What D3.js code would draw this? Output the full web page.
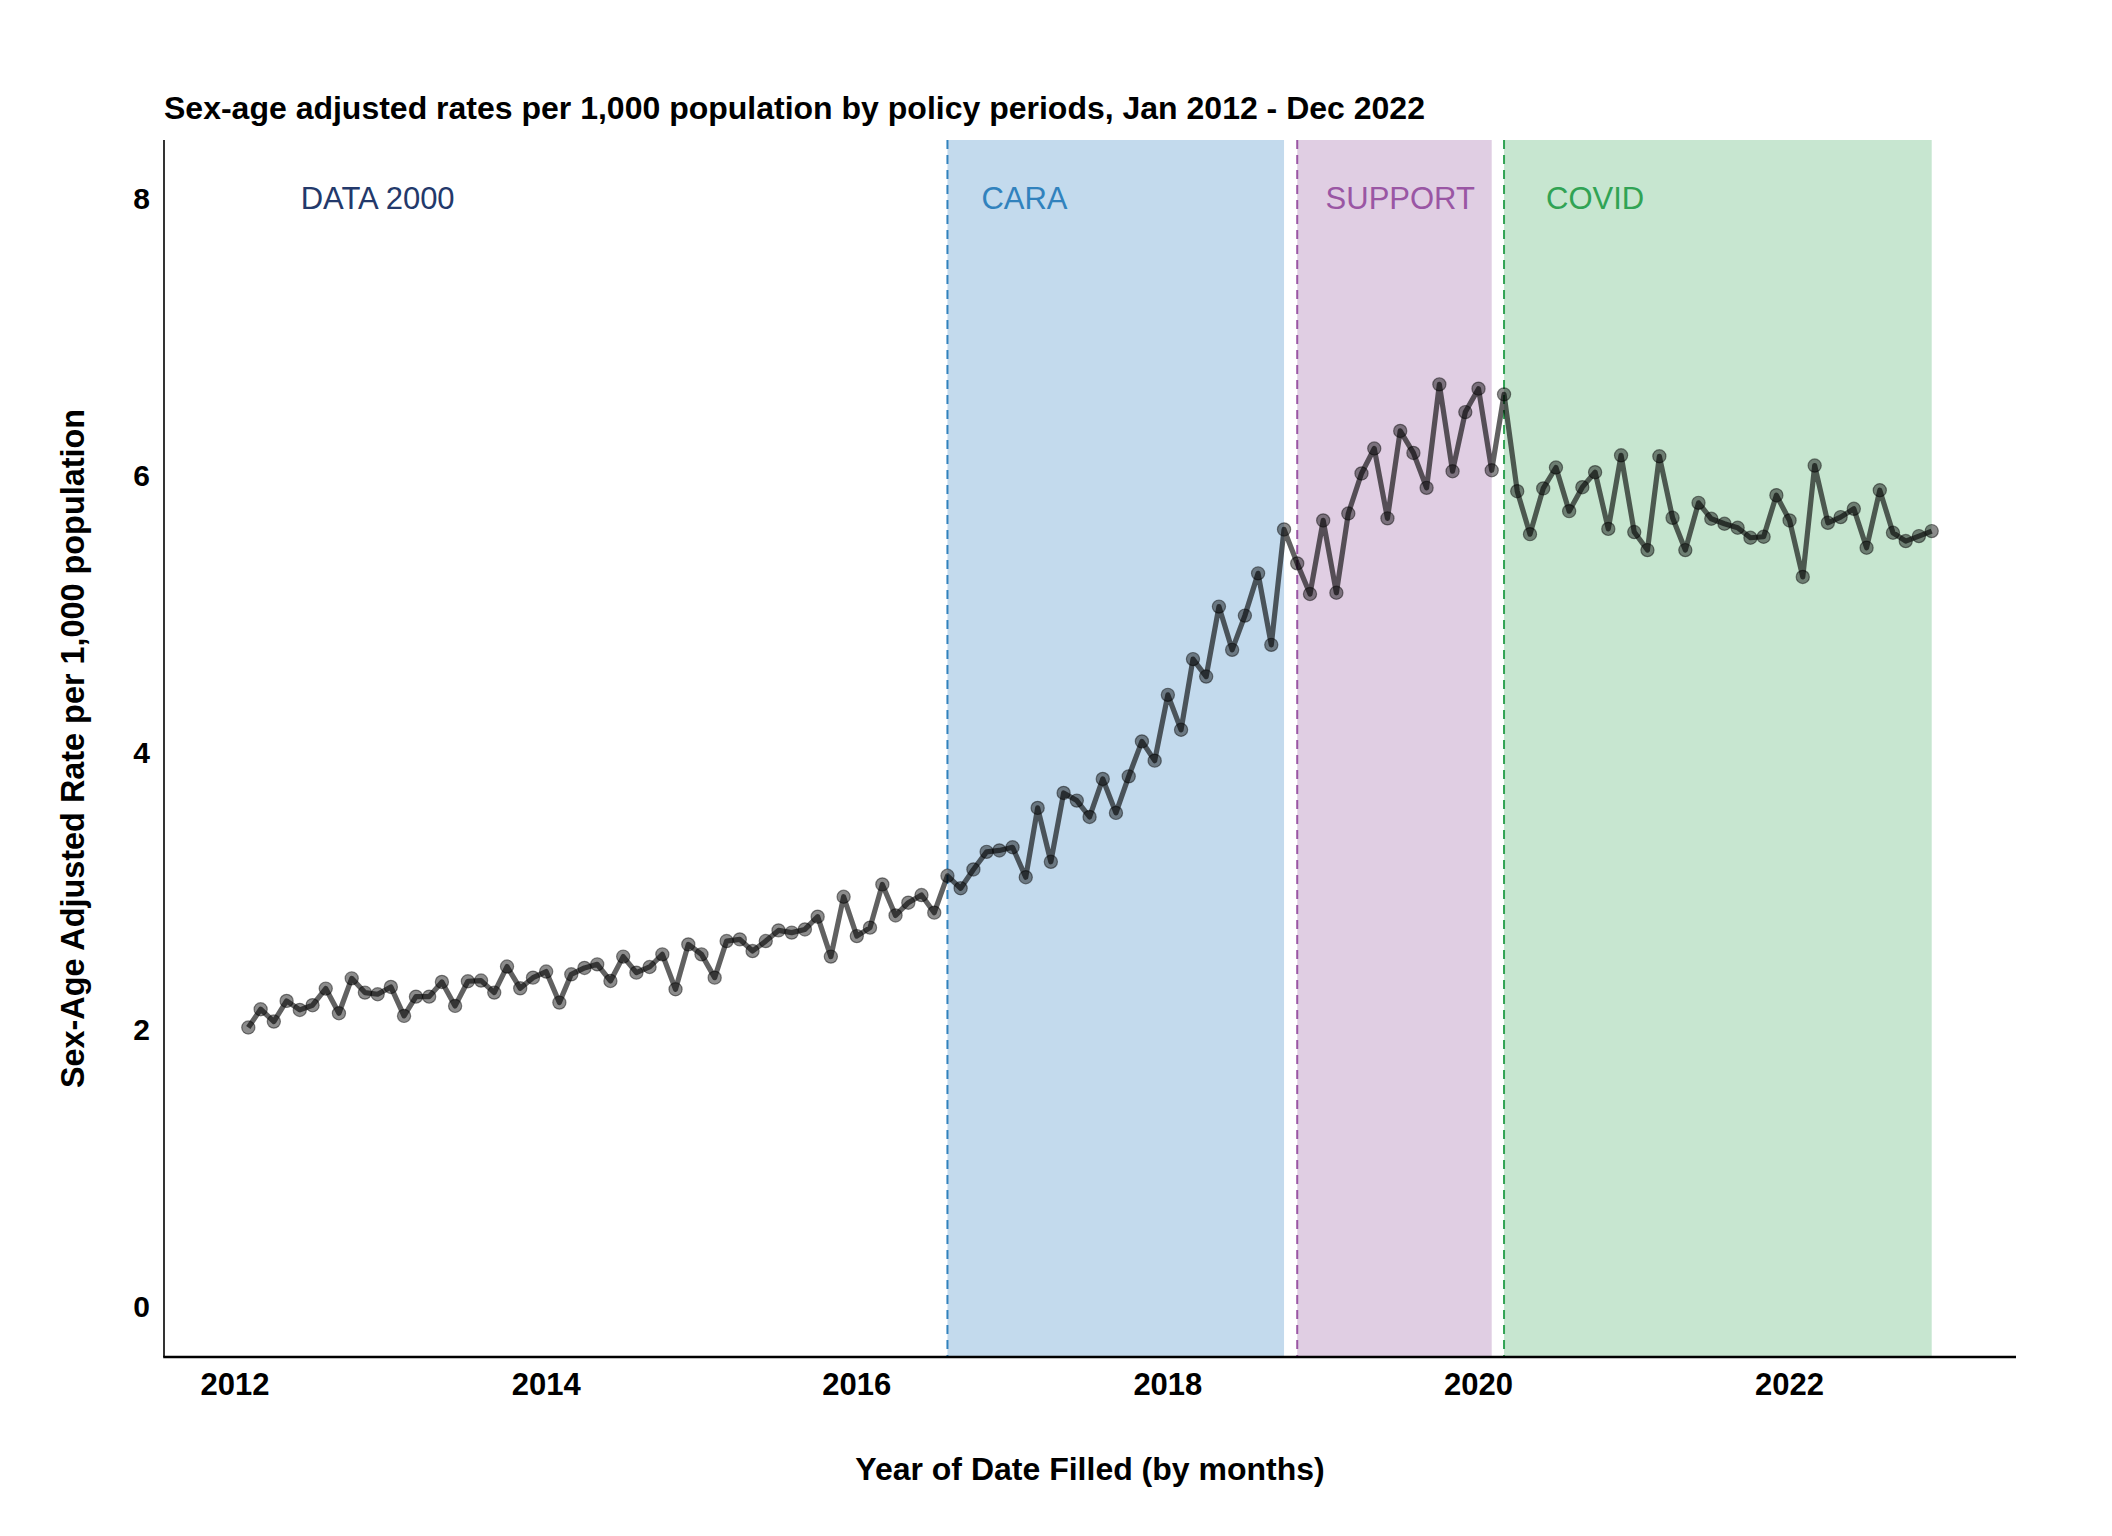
<!DOCTYPE html>
<html>
<head>
<meta charset="utf-8">
<script src="https://cdn.jsdelivr.net/npm/d3@7"></script>
<style>
  html, body { margin: 0; padding: 0; background: #ffffff; }
  svg text { font-family: "Liberation Sans", Arial, sans-serif; }
</style>
</head>
<body>
<svg id="chart" width="2112" height="1536"></svg>
<script>
// ---------------- DATA ----------------
const firstMonth = new Date(2012, 1, 1);   // Feb 2012
const endMonthExclusive = new Date(2023, 0, 1); // through Dec 2022
const months = d3.timeMonth.range(firstMonth, endMonthExclusive);

const rates = [
  2.015, 2.147, 2.058, 2.207, 2.142, 2.176, 2.296, 2.118, 2.370, 2.267, 2.255,
  2.308, 2.099, 2.238, 2.238, 2.344, 2.171, 2.349, 2.354, 2.267, 2.455, 2.298,
  2.375, 2.419, 2.195, 2.399, 2.445, 2.471, 2.351, 2.527, 2.411, 2.452, 2.543,
  2.291, 2.615, 2.543, 2.375, 2.639, 2.651, 2.567, 2.639, 2.716, 2.700, 2.723,
  2.815, 2.527, 2.959, 2.675, 2.736, 3.048, 2.824, 2.916, 2.971, 2.844, 3.110,
  3.020, 3.156, 3.283, 3.293, 3.316, 3.100, 3.600, 3.211, 3.708, 3.653, 3.535,
  3.809, 3.564, 3.828, 4.080, 3.941, 4.416, 4.164, 4.674, 4.548, 5.053, 4.741,
  4.988, 5.293, 4.777, 5.610, 5.365, 5.144, 5.675, 5.153, 5.725, 6.014, 6.194,
  5.690, 6.321, 6.162, 5.910, 6.657, 6.030, 6.457, 6.626, 6.037, 6.585, 5.886,
  5.576, 5.906, 6.057, 5.742, 5.915, 6.023, 5.614, 6.145, 5.591, 5.461, 6.138,
  5.694, 5.461, 5.802, 5.687, 5.651, 5.622, 5.550, 5.557, 5.857, 5.675, 5.267,
  6.071, 5.658, 5.699, 5.759, 5.478, 5.893, 5.586, 5.526, 5.562, 5.598
];

const periodNames  = ["DATA 2000", "CARA", "SUPPORT", "COVID"];
const periodStarts = [null, new Date(2016, 7, 1), new Date(2018, 10, 1), new Date(2020, 2, 1)];
const periodEnds   = [null, new Date(2018, 9, 1), new Date(2020, 1, 1), new Date(2022, 11, 1)];
const periodLabelDates = [new Date(2012, 11, 1), new Date(2017, 0, 29), new Date(2019, 6, 1), new Date(2020, 9, 1)];
const periodLabelValue = 8;

const periodFill  = [null, "#c3daed", "#e0cee3", "#c7e6d0"];
const periodLine  = [null, "#3182bd", "#9a56a4", "#31a354"];
const periodText  = ["#23396b", "#3182bd", "#9a56a4", "#31a354"];

const yTicks = [0, 2, 4, 6, 8];
const xTickYears = [2012, 2014, 2016, 2018, 2020, 2022];

const titleText = "Sex-age adjusted rates per 1,000 population by policy periods, Jan 2012 - Dec 2022";
const xTitle = "Year of Date Filled (by months)";
const yTitle = "Sex-Age Adjusted Rate per 1,000 population";

// ---------------- LAYOUT ----------------
const panel = { left: 164, right: 2016, top: 140, bottom: 1357 };

const x = d3.scaleTime()
  .domain([months[0], months[months.length - 1]])
  .range([248.3, 1931.7]);

const y = d3.scaleLinear()
  .domain([0, 8])
  .range([1306.7, 198.3]);

const svg = d3.select("#chart");

// shaded policy periods
const periods = periodNames.map((n, i) => ({
  name: n, start: periodStarts[i], end: periodEnds[i],
  fill: periodFill[i], line: periodLine[i], text: periodText[i], labelDate: periodLabelDates[i]
}));

svg.append("g").selectAll("rect")
  .data(periods.filter(p => p.start))
  .join("rect")
  .attr("x", d => x(d.start))
  .attr("width", d => x(d.end) - x(d.start))
  .attr("y", panel.top)
  .attr("height", panel.bottom - panel.top)
  .attr("fill", d => d.fill);

svg.append("g").selectAll("line")
  .data(periods.filter(p => p.start))
  .join("line")
  .attr("x1", d => x(d.start)).attr("x2", d => x(d.start))
  .attr("y1", panel.top).attr("y2", panel.bottom)
  .attr("stroke", d => d.line)
  .attr("stroke-width", 2)
  .attr("stroke-dasharray", "9,6");

// line + points
const series = months.map((m, i) => ({ date: m, value: rates[i] }));

svg.append("path")
  .datum(series)
  .attr("fill", "none")
  .attr("stroke", "#000")
  .attr("stroke-opacity", 0.62)
  .attr("stroke-width", 5.2)
  .attr("stroke-linejoin", "round")
  .attr("d", d3.line().x(d => x(d.date)).y(d => y(d.value)));

svg.append("g").selectAll("circle")
  .data(series)
  .join("circle")
  .attr("cx", d => x(d.date))
  .attr("cy", d => y(d.value))
  .attr("r", 6.6)
  .attr("fill", "rgba(0,0,0,0.45)")
  .attr("stroke", "rgba(0,0,0,0.45)")
  .attr("stroke-width", 1.2);

// period labels
svg.append("g").selectAll("text")
  .data(periods)
  .join("text")
  .attr("x", d => x(d.labelDate))
  .attr("y", y(periodLabelValue))
  .attr("dy", "0.34em")
  .attr("text-anchor", "middle")
  .attr("font-size", 31)
  .attr("fill", d => d.text)
  .text(d => d.name);

// axes
svg.append("line")
  .attr("x1", panel.left).attr("x2", panel.left)
  .attr("y1", panel.top).attr("y2", panel.bottom)
  .attr("stroke", "#000").attr("stroke-width", 1.6);

svg.append("line")
  .attr("x1", panel.left - 0.8).attr("x2", panel.right)
  .attr("y1", panel.bottom).attr("y2", panel.bottom)
  .attr("stroke", "#000").attr("stroke-width", 2.6);

svg.append("g").selectAll("text")
  .data(yTicks)
  .join("text")
  .attr("x", 150)
  .attr("y", d => y(d))
  .attr("dy", "0.34em")
  .attr("text-anchor", "end")
  .attr("font-size", 30)
  .attr("font-weight", "bold")
  .attr("fill", "#000")
  .text(d => d);

svg.append("g").selectAll("text")
  .data(xTickYears)
  .join("text")
  .attr("x", d => x(new Date(d, 0, 1)))
  .attr("y", 1384)
  .attr("dy", "0.36em")
  .attr("text-anchor", "middle")
  .attr("font-size", 31)
  .attr("font-weight", "bold")
  .attr("fill", "#000")
  .text(d => d);

// titles
svg.append("text")
  .attr("x", panel.left)
  .attr("y", 119)
  .attr("font-size", 32)
  .attr("font-weight", "bold")
  .attr("fill", "#000")
  .text(titleText);

svg.append("text")
  .attr("x", (panel.left + panel.right) / 2)
  .attr("y", 1468)
  .attr("dy", "0.36em")
  .attr("text-anchor", "middle")
  .attr("font-size", 32)
  .attr("font-weight", "bold")
  .attr("fill", "#000")
  .text(xTitle);

svg.append("text")
  .attr("transform", `translate(72, ${(panel.top + panel.bottom) / 2}) rotate(-90)`)
  .attr("dy", "0.36em")
  .attr("text-anchor", "middle")
  .attr("font-size", 32.4)
  .attr("font-weight", "bold")
  .attr("fill", "#000")
  .text(yTitle);
</script>
</body>
</html>
